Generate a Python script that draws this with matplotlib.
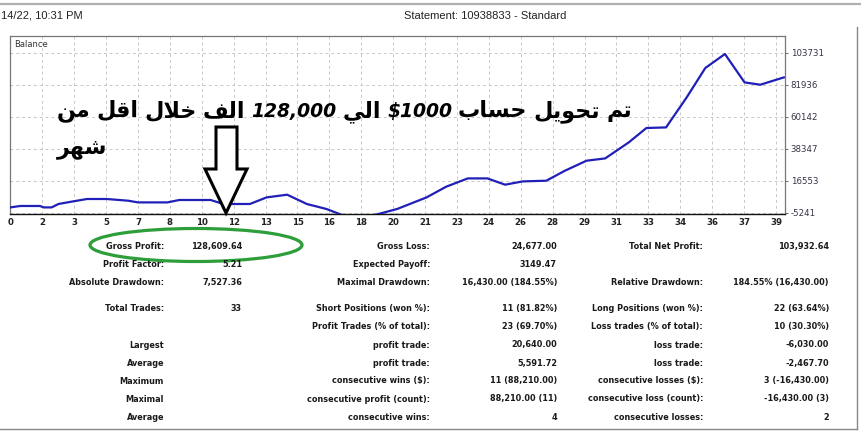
import matplotlib
matplotlib.use("Agg")
import matplotlib.pyplot as plt
from matplotlib.patches import Ellipse, Polygon
from matplotlib import font_manager
from matplotlib.ft2font import FT2Font

# ---------------- data ----------------
balance_x = [0.0, 0.5, 1.5, 1.7, 2.1, 2.45, 3.1, 3.9, 4.9, 6.0, 6.5, 8.0, 8.6, 10.2,
             10.85, 12.2, 13.05, 14.1, 15.1, 16.1, 16.9, 17.7, 18.7, 19.7, 21.2, 22.2,
             23.3, 24.3, 25.2, 26.1, 27.3, 28.25, 29.35, 30.3, 31.5, 32.4, 33.4, 34.45,
             35.4, 36.4, 37.4, 38.2, 39.4]
balance_y = [-1630, -670, -670, -1630, -1630, 690, 2250, 4090, 4090, 2930, 1780, 1780,
             3410, 3410, 690, 690, 5180, 7020, 690, -2720, -6800, -9000, -6300, -2720,
             5180, 12470, 18120, 18120, 13830, 16080, 16550, 23360, 30170, 31740, 42640,
             52440, 52850, 73280, 93300, 102830, 83500, 81930, 86900]

x_tick_labels = ["0", "2", "3", "5", "7", "8", "10", "12", "13", "15", "16", "18", "20",
                 "21", "23", "24", "26", "28", "29", "31", "33", "34", "36", "37", "39"]
y_ticks = [-5241, 16553, 38347, 60142, 81936, 103731]

header_left = "14/22, 10:31 PM"
header_title = "Statement: 10938833 - Standard"
chart_title = "Balance"
arabic_line1 = "تم تحويل حساب $1000 الي 128,000 الف خلال اقل من"
arabic_line2 = "شهر"

col1_labels = ["Gross Profit:", "Profit Factor:", "Absolute Drawdown:", "Total Trades:", "",
               "Largest", "Average", "Maximum", "Maximal", "Average"]
col1_values = ["128,609.64", "5.21", "7,527.36", "33", "", "", "", "", "", ""]
col2_labels = ["Gross Loss:", "Expected Payoff:", "Maximal Drawdown:", "Short Positions (won %):",
               "Profit Trades (% of total):", "profit trade:", "profit trade:",
               "consecutive wins ($):", "consecutive profit (count):", "consecutive wins:"]
col2_values = ["24,677.00", "3149.47", "16,430.00 (184.55%)", "11 (81.82%)", "23 (69.70%)",
               "20,640.00", "5,591.72", "11 (88,210.00)", "88,210.00 (11)", "4"]
col3_labels = ["Total Net Profit:", "", "Relative Drawdown:", "Long Positions (won %):",
               "Loss trades (% of total):", "loss trade:", "loss trade:",
               "consecutive losses ($):", "consecutive loss (count):", "consecutive losses:"]
col3_values = ["103,932.64", "", "184.55% (16,430.00)", "22 (63.64%)", "10 (30.30%)",
               "-6,030.00", "-2,467.70", "3 (-16,430.00)", "-16,430.00 (3)", "2"]

# ---------------- minimal Arabic shaping (presentation forms) ----------------
FORMS = {  # iso, fin, ini, med
    "ا": ("\uFE8D", "\uFE8E", None, None),
    "ب": ("\uFE8F", "\uFE90", "\uFE91", "\uFE92"),
    "ت": ("\uFE95", "\uFE96", "\uFE97", "\uFE98"),
    "ح": ("\uFEA1", "\uFEA2", "\uFEA3", "\uFEA4"),
    "خ": ("\uFEA5", "\uFEA6", "\uFEA7", "\uFEA8"),
    "ر": ("\uFEAD", "\uFEAE", None, None),
    "س": ("\uFEB1", "\uFEB2", "\uFEB3", "\uFEB4"),
    "ش": ("\uFEB5", "\uFEB6", "\uFEB7", "\uFEB8"),
    "ف": ("\uFED1", "\uFED2", "\uFED3", "\uFED4"),
    "ق": ("\uFED5", "\uFED6", "\uFED7", "\uFED8"),
    "ل": ("\uFEDD", "\uFEDE", "\uFEDF", "\uFEE0"),
    "م": ("\uFEE1", "\uFEE2", "\uFEE3", "\uFEE4"),
    "ن": ("\uFEE5", "\uFEE6", "\uFEE7", "\uFEE8"),
    "ه": ("\uFEE9", "\uFEEA", "\uFEEB", "\uFEEC"),
    "و": ("\uFEED", "\uFEEE", None, None),
    "ي": ("\uFEF1", "\uFEF2", "\uFEF3", "\uFEF4"),
    "LA": ("\uFEFB", "\uFEFC", None, None),
}


def is_arabic(tok):
    return all(ch in FORMS for ch in tok.replace("لا", ""))


def shape_word(word):
    chars = []
    i = 0
    while i < len(word):
        if word[i] == "ل" and i + 1 < len(word) and word[i + 1] == "ا":
            chars.append("LA")
            i += 2
        else:
            chars.append(word[i])
            i += 1
    out = []
    for k, c in enumerate(chars):
        f = FORMS[c]
        prev_joins = k > 0 and FORMS[chars[k - 1]][2] is not None
        next_joins = k < len(chars) - 1 and f[2] is not None
        if prev_joins and next_joins:
            g = f[3]
        elif prev_joins:
            g = f[1]
        elif next_joins:
            g = f[2]
        else:
            g = f[0]
        out.append(g)
    return "".join(reversed(out))


def visual_tokens(line):
    """Right-to-left line -> list of (token, is_arabic) in left-to-right visual order."""
    res = []
    for t in reversed(line.split(" ")):
        if is_arabic(t):
            res.append((shape_word(t), True))
        else:
            res.append((t, False))
    return res


def find_arabic_font():
    need = [0xFE8D, 0xFEDF, 0xFEFC, 0xFEF2, 0xFEB7]
    best = None
    for fe in font_manager.fontManager.ttflist:
        try:
            cmap = FT2Font(fe.fname).get_charmap()
        except Exception:
            continue
        if all(c in cmap for c in need):
            w = fe.weight if isinstance(fe.weight, int) else (700 if "bold" in str(fe.weight) else 400)
            score = 0.0
            if w >= 600:
                score += 2
            if "Sans" in fe.name:
                score += 1
            if fe.style in ("italic", "oblique"):
                score += 0.5
            if "Mono" in fe.name:
                score -= 5
            if best is None or score > best[0]:
                best = (score, fe)
    return best[1] if best else None


ar_fe = find_arabic_font()
AR_SIZE = 16
if ar_fe is not None:
    ar_props = font_manager.FontProperties(fname=ar_fe.fname, size=AR_SIZE)
else:
    ar_props = font_manager.FontProperties(family="DejaVu Sans", weight="bold", size=AR_SIZE)
lat_props = font_manager.FontProperties(family="DejaVu Sans", weight="bold", style="italic",
                                        size=13.5)

# ---------------- figure ----------------
W, H = 862, 432
fig = plt.figure(figsize=(W / 100, H / 100), dpi=100)
fig.patch.set_facecolor("white")


def fx(x):
    return x / W


def fy(y):
    return 1 - y / H


L, T, R, B = 10.4, 35.7, 785, 214
ax = fig.add_axes([fx(L), fy(B), fx(R) - fx(L), fy(T) - fy(B)])
ax.set_facecolor("white")
ax.plot(balance_x, balance_y, color="#2020b8", lw=1.6, solid_joinstyle="round", zorder=3)
ax.set_xlim(0, (R - L) / 19.63)
ax.set_ylim(-6126, 115309)

step = 31.9 / 19.63
ax.set_xticks([k * step for k in range(len(x_tick_labels))])
ax.set_xticklabels(x_tick_labels, fontsize=6.2, color="#222222", fontweight="bold",
                   family="DejaVu Sans")
ax.set_yticks(y_ticks)
ax.set_yticklabels([str(v) for v in y_ticks], fontsize=6.2, color="#333344",
                   family="DejaVu Sans")
ax.yaxis.tick_right()
ax.tick_params(axis="y", length=2.5, width=0.7, color="#666666", pad=1.5)
ax.tick_params(axis="x", length=0, pad=3)
ax.grid(True, color="#c8c8c8", lw=0.7, ls=(0, (3, 3)))
for s in ["left", "top", "right"]:
    ax.spines[s].set_color("#777777")
    ax.spines[s].set_linewidth(0.9)
ax.spines["bottom"].set_color("#111111")
ax.spines["bottom"].set_linewidth(1.0)
ax.text(4 / (R - L), 1 - 8.5 / (B - T), chart_title, transform=ax.transAxes,
        fontsize=6, color="#333333", va="center", ha="left", family="DejaVu Sans")

# header
fig.add_artist(plt.Line2D([0, 1], [fy(3.5), fy(3.5)], color="#b0b0b0", lw=1.6))
fig.text(fx(1), fy(16), header_left, fontsize=8, color="#222222", va="center", ha="left",
         family="Liberation Sans")
fig.text(fx(485), fy(16), header_title, fontsize=8, color="#222222", va="center",
         ha="center", family="Liberation Sans")

# frame
fig.add_artist(plt.Line2D([fx(857), fx(857)], [fy(27), fy(429)], color="#888888", lw=1.0))
fig.add_artist(plt.Line2D([0, fx(857)], [fy(429), fy(429)], color="#888888", lw=1.0))

# table
rows_y = [246.7, 264.5, 282.5, 308.3, 326.5, 345, 363.3, 381, 399, 417.3]
cols = [(col1_labels, 164), (col1_values, 242), (col2_labels, 430), (col2_values, 557),
        (col3_labels, 703), (col3_values, 829)]
for texts, xr in cols:
    for t, yy in zip(texts, rows_y):
        if t:
            fig.text(fx(xr), fy(yy), t, fontsize=5.9, fontweight="bold", color="#1a1a1a",
                     ha="right", va="center", family="DejaVu Sans")

# annotations: Arabic text (laid out token by token, right-to-left reading order)
renderer = fig.canvas.get_renderer()


def draw_rtl_line(line, x0, baseline, gap=6):
    x = x0
    for tok, ar in visual_tokens(line):
        t = fig.text(fx(x), fy(baseline), tok, fontproperties=ar_props if ar else lat_props,
                     ha="left", va="baseline", color="black")
        x += t.get_window_extent(renderer).width + gap


draw_rtl_line(arabic_line1, 57, 117)
draw_rtl_line(arabic_line2, 57, 153)

arrow_px = [(216, 127), (237, 127), (237, 169), (247, 169), (226, 213), (205, 169), (216, 169)]
fig.add_artist(Polygon([(fx(x), fy(y)) for x, y in arrow_px], closed=True,
                       facecolor="white", edgecolor="black", lw=2.2, joinstyle="miter",
                       transform=fig.transFigure))

fig.add_artist(Ellipse((fx(196), fy(245)), fx(212), 33 / H, angle=0,
                       facecolor="none", edgecolor="#2e9e3a", lw=2.3,
                       transform=fig.transFigure))

fig.savefig("out.png", dpi=100)
